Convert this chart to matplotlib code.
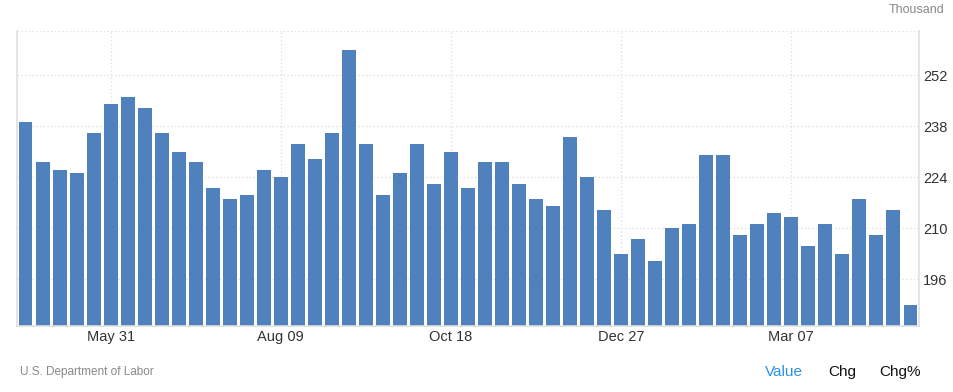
import matplotlib.pyplot as plt
import numpy as np

# weekly values (thousand), first bar = Apr 26
values = [239, 228, 226, 225, 236, 244, 246, 243, 236, 231,
          228, 221, 218, 219, 226, 224, 233, 229, 236, 259,
          233, 219, 225, 233, 222, 231, 221, 228, 228, 222,
          218, 216, 235, 224, 215, 203, 207, 201, 210, 211,
          230, 230, 208, 211, 214, 213, 205, 211, 203, 218,
          208, 215, 189]
tick_pos = [5, 15, 25, 35, 45]
tick_labels = ["May 31", "Aug 09", "Oct 18", "Dec 27", "Mar 07"]
y_ticks = [196, 210, 224, 238, 252]


def main():
    plt.rcParams['font.family'] = ['Liberation Sans', 'DejaVu Sans']
    fig = plt.figure(figsize=(9.54, 3.92), dpi=100)
    ax = fig.add_axes([17 / 954, 66 / 392, 902 / 954, 295 / 392])

    x = np.arange(len(values))
    ax.bar(x, values, width=0.82, color='#4f81bd', zorder=2)

    ax.set_xlim(-0.5, len(values) - 0.5)
    ax.set_ylim(183.1, 264.1)

    ax.set_xticks(tick_pos)
    ax.set_xticklabels(tick_labels)
    ax.set_yticks(y_ticks)
    ax.yaxis.tick_right()
    ax.tick_params(axis='both', length=0, labelsize=10.5, colors='#333333')
    ax.tick_params(axis='x', pad=3)
    ax.tick_params(axis='y', pad=3)

    ax.grid(True, color='#dddddd', linestyle=(0, (1, 2)), linewidth=0.9, zorder=0)
    ax.axhline(264.1, color='#dddddd', linestyle=(0, (1, 2)), linewidth=0.9, zorder=0)

    for side in ['left', 'bottom', 'right']:
        ax.spines[side].set_color('#e0e0e0')
        ax.spines[side].set_linewidth(1.2)
    ax.spines['top'].set_visible(False)

    fig.text(944 / 954, 1 - 10 / 392, "Thousand", ha='right', va='center',
             fontsize=9, color='#888888')
    fig.text(20 / 954, 1 - 372 / 392, "U.S. Department of Labor", ha='left', va='center',
             fontsize=8.5, color='#888888')
    fig.text(784 / 954, 1 - 372 / 392, "Value", ha='center', va='center',
             fontsize=11, color='#2d8fe6')
    fig.text(842 / 954, 1 - 372 / 392, "Chg", ha='center', va='center',
             fontsize=11, color='#111111')
    fig.text(900 / 954, 1 - 372 / 392, "Chg%", ha='center', va='center',
             fontsize=11, color='#111111')

    fig.savefig("out.png", dpi=100)


if __name__ == '__main__':
    main()
